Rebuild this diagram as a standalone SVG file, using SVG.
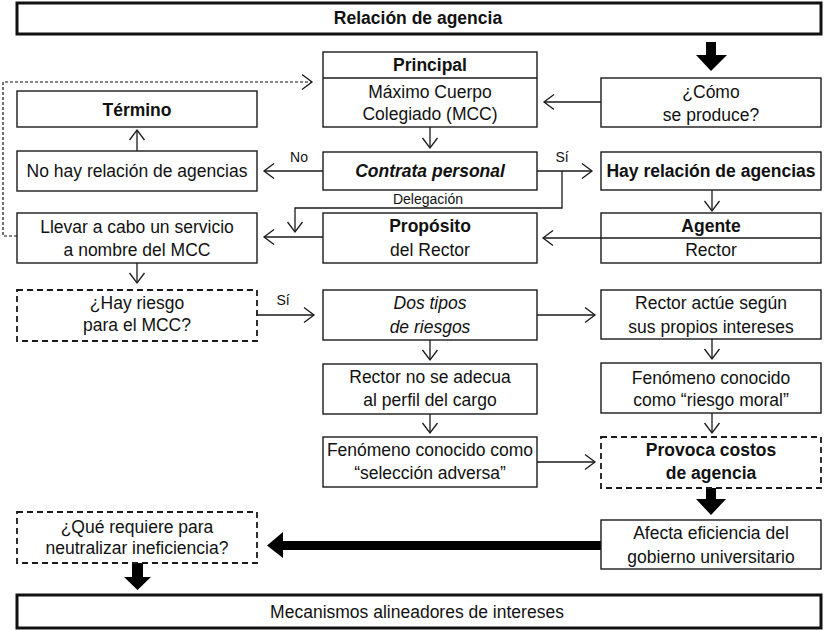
<svg xmlns="http://www.w3.org/2000/svg" width="824" height="630" viewBox="0 0 824 630">
<defs>
<style>
.box{fill:#fff;stroke:#1a1a1a;stroke-width:1.4}
.thick{fill:#fff;stroke:#111;stroke-width:3}
.dash{fill:#fff;stroke:#1a1a1a;stroke-width:1.8;stroke-dasharray:6 4}
text{font-family:"Liberation Sans",Arial,sans-serif;font-size:17.5px;fill:#111;text-anchor:middle}
.b{font-weight:bold}
.i{font-style:italic}
.s{font-size:14px}
.ln{fill:none;stroke:#1a1a1a;stroke-width:1.3}
.dl{fill:none;stroke:#111;stroke-width:1.2;stroke-dasharray:3 2}
.fat{fill:#000;stroke:none}
</style>
<marker id="ah" markerUnits="userSpaceOnUse" markerWidth="14" markerHeight="18" viewBox="0 0 14 18" refX="12" refY="9" orient="auto">
<path d="M2,1.5 L12,9 L2,16.5" fill="none" stroke="#1a1a1a" stroke-width="1.3"/>
</marker>
</defs>
<rect width="824" height="630" fill="#fff"/>

<g id="connectors">
<!-- thick arrows -->
<polygon class="fat" points="706,42 716,42 716,55 727,55 711,71 696,55 706,55"/>
<polygon class="fat" points="706,488 716,488 716,499 726,499 711,515 696,499 706,499"/>
<polygon class="fat" points="132,563 143,563 143,577 151,577 137.5,590 124,577 132,577"/>
<polygon class="fat" points="601,541 283,541 283,532 267,545.5 283,558 283,550 601,550"/>
<!-- thin arrows -->
<line class="ln" x1="601" y1="102" x2="544" y2="102" marker-end="url(#ah)"/>
<line class="ln" x1="430" y1="127" x2="430" y2="148" marker-end="url(#ah)"/>
<line class="ln" x1="323" y1="171" x2="264" y2="171" marker-end="url(#ah)"/>
<line class="ln" x1="137" y1="151" x2="137" y2="130" marker-end="url(#ah)"/>
<line class="ln" x1="537" y1="171" x2="592" y2="171" marker-end="url(#ah)"/>
<polyline class="ln" points="562,171 562,208 295,208 295,232" marker-end="url(#ah)"/>
<line class="ln" x1="712" y1="190" x2="712" y2="211" marker-end="url(#ah)"/>
<line class="ln" x1="601" y1="238" x2="543" y2="238" marker-end="url(#ah)"/>
<line class="ln" x1="323" y1="237" x2="264" y2="237" marker-end="url(#ah)"/>
<line class="ln" x1="137" y1="263" x2="137" y2="283" marker-end="url(#ah)"/>
<line class="ln" x1="257" y1="315" x2="314" y2="315" marker-end="url(#ah)"/>
<line class="ln" x1="537" y1="315" x2="595" y2="315" marker-end="url(#ah)"/>
<line class="ln" x1="430" y1="340" x2="430" y2="360" marker-end="url(#ah)"/>
<line class="ln" x1="712" y1="339" x2="712" y2="359" marker-end="url(#ah)"/>
<line class="ln" x1="430" y1="414" x2="430" y2="433" marker-end="url(#ah)"/>
<line class="ln" x1="712" y1="413" x2="712" y2="433" marker-end="url(#ah)"/>
<line class="ln" x1="537" y1="462" x2="595" y2="462" marker-end="url(#ah)"/>
<!-- dashed feedback -->
<polyline class="dl" points="17,236 3,236 3,82 312,82" marker-end="url(#ah)"/>
<!-- labels -->
<text class="s" x="299" y="162">No</text>
<text class="s" x="562" y="162">Sí</text>
<text class="s" x="428" y="204">Delegación</text>
<text class="s" x="283" y="305">Sí</text>
</g>

<g id="n-title"><rect class="thick" x="17" y="3" width="804" height="31"/><text class="b" x="418" y="24">Relación de agencia</text></g>

<g id="n-principal"><rect class="box" x="323" y="52" width="214" height="75"/><line class="ln" x1="323" y1="78" x2="537" y2="78"/><text class="b" x="430" y="71">Principal</text><text x="430" y="98">Máximo Cuerpo</text><text x="430" y="120">Colegiado (MCC)</text></g>

<g id="n-como"><rect class="box" x="601" y="78" width="220" height="49"/><text x="711" y="98">¿Cómo</text><text x="711" y="121">se produce?</text></g>

<g id="n-termino"><rect class="box" x="17" y="91" width="240" height="36"/><text class="b" x="137" y="116">Término</text></g>

<g id="n-nohay"><rect class="box" x="17" y="151" width="240" height="40"/><text x="137" y="177">No hay relación de agencias</text></g>

<g id="n-contrata"><rect class="box" x="323" y="152" width="214" height="38"/><text class="b i" x="430" y="177">Contrata personal</text></g>

<g id="n-hay"><rect class="box" x="601" y="152" width="220" height="38"/><text class="b" x="711" y="177">Hay relación de agencias</text></g>

<g id="n-llevar"><rect class="box" x="17" y="213" width="240" height="50"/><text x="137" y="233">Llevar a cabo un servicio</text><text x="137" y="256">a nombre del MCC</text></g>

<g id="n-proposito"><rect class="box" x="323" y="213" width="214" height="50"/><text class="b" x="430" y="232">Propósito</text><text x="430" y="256">del Rector</text></g>

<g id="n-agente"><rect class="box" x="601" y="213" width="220" height="50"/><line class="ln" x1="601" y1="238" x2="821" y2="238"/><text class="b" x="711" y="232">Agente</text><text x="711" y="256">Rector</text></g>

<g id="n-hayriesgo"><rect class="dash" x="17" y="290" width="240" height="51"/><text x="137" y="309">¿Hay riesgo</text><text x="137" y="331">para el MCC?</text></g>

<g id="n-dostipos"><rect class="box" x="323" y="290" width="214" height="50"/><text class="i" x="430" y="309">Dos tipos</text><text class="i" x="430" y="333">de riesgos</text></g>

<g id="n-actue"><rect class="box" x="601" y="290" width="220" height="49"/><text x="711" y="309">Rector actúe según</text><text x="711" y="333">sus propios intereses</text></g>

<g id="n-noadecua"><rect class="box" x="323" y="364" width="214" height="50"/><text x="430" y="383">Rector no se adecua</text><text x="430" y="406">al perfil del cargo</text></g>

<g id="n-moral"><rect class="box" x="601" y="363" width="220" height="50"/><text x="711" y="384">Fenómeno conocido</text><text x="711" y="406">como “riesgo moral”</text></g>

<g id="n-seleccion"><rect class="box" x="323" y="437" width="214" height="50"/><text x="430" y="456">Fenómeno conocido como</text><text x="430" y="479">“selección adversa”</text></g>

<g id="n-provoca"><rect class="dash" x="601" y="437" width="220" height="51"/><text class="b" x="711" y="456">Provoca costos</text><text class="b" x="711" y="479">de agencia</text></g>

<g id="n-afecta"><rect class="box" x="601" y="520" width="220" height="49"/><text x="711" y="539">Afecta eficiencia del</text><text x="711" y="563">gobierno universitario</text></g>

<g id="n-que"><rect class="dash" x="17" y="512" width="240" height="51"/><text x="137" y="533">¿Qué requiere para</text><text x="137" y="554">neutralizar ineficiencia?</text></g>

<g id="n-mecanismos"><rect class="thick" x="17" y="595" width="804" height="33"/><text x="417" y="618">Mecanismos alineadores de intereses</text></g>
</svg>
